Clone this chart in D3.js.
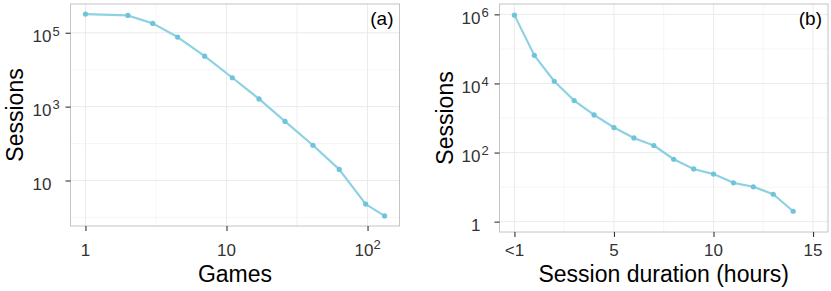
<!DOCTYPE html>
<html>
<head>
<meta charset="utf-8">
<script src="https://cdn.jsdelivr.net/npm/d3@7"></script>
<style>
  body { margin: 0; background: #fff; }
  svg text { font-family: "Liberation Sans", Arial, Helvetica, sans-serif; }
</style>
</head>
<body>
<div id="chart"></div>
<script>
(function () {
  // panel (a): sessions by number of games played
  const gamesPlayed = [1, 2, 3, 4.5, 7, 11, 17, 26, 41, 63, 97, 132];
  const gamesSessions = [320000, 294000, 179000, 76600, 23200, 6050, 1620, 398, 90, 20, 2.3, 1.1];
  const gamesXTicks = [1, 10, 100];
  const gamesXLabels = ["1", "10", "10^2"];
  const gamesYTicks = [10, 1000, 100000];
  const gamesYLabels = ["10", "10^3", "10^5"];

  // panel (b): sessions by session duration
  const durationHours = [0, 1, 2, 3, 4, 5, 6, 7, 8, 9, 10, 11, 12, 13, 14];
  const durationSessions = [950000, 65000, 11600, 3200, 1230, 530, 265, 160, 64, 33.5, 23.8, 13.3, 10.2, 6.2, 2.0];
  const durationXLimits = [0, 15];
  const durationYLimits = [1, 1000000];
  const durationXTicks = [0, 5, 10, 15];
  const durationXLabels = ["<1", "5", "10", "15"];
  const durationYTicks = [1, 100, 10000, 1000000];
  const durationYLabels = ["1", "10^2", "10^4", "10^6"];

  const W = 831, H = 291;
  const lineColor = "#8cd2e2";
  const pointColor = "#6fc3da";

  const svg = d3.select("#chart").append("svg")
    .attr("width", W)
    .attr("height", H);

  // ggplot style 5% expansion
  function expandLog(ext) {
    const a = Math.log10(ext[0]), b = Math.log10(ext[1]);
    const pad = (b - a) * 0.05;
    return [Math.pow(10, a - pad), Math.pow(10, b + pad)];
  }
  function expandLin(ext) {
    const pad = (ext[1] - ext[0]) * 0.05;
    return [ext[0] - pad, ext[1] + pad];
  }

  // log minor breaks halfway between major ticks
  function logMinor(ticks) {
    const out = [];
    for (let i = 0; i < ticks.length - 1; i++) {
      out.push(Math.sqrt(ticks[i] * ticks[i + 1]));
    }
    return out;
  }

  function drawPanel(p) {
    const g = svg.append("g");
    const left = p.box.left, right = p.box.right, top = p.box.top, bottom = p.box.bottom;
    const x = p.x.range([left, right]);
    const y = p.y.range([bottom, top]);

    // minor grid
    g.selectAll(".xminor").data(p.xMinor).join("line")
      .attr("x1", d => x(d)).attr("x2", d => x(d))
      .attr("y1", top).attr("y2", bottom)
      .attr("stroke", "#f4f4f4").attr("stroke-width", 0.8)
    g.selectAll(".yminor").data(p.yMinor).join("line")
      .attr("y1", d => y(d)).attr("y2", d => y(d))
      .attr("x1", left).attr("x2", right)
      .attr("stroke", "#f4f4f4").attr("stroke-width", 0.8)
    // major grid
    g.append("g").selectAll("line").data(p.xTicks).join("line")
      .attr("x1", d => x(d)).attr("x2", d => x(d))
      .attr("y1", top).attr("y2", bottom)
      .attr("stroke", "#ebebeb").attr("stroke-width", 1)
    g.append("g").selectAll("line").data(p.yTicks).join("line")
      .attr("y1", d => y(d)).attr("y2", d => y(d))
      .attr("x1", left).attr("x2", right)
      .attr("stroke", "#ebebeb").attr("stroke-width", 1)

    // frame
    g.append("rect")
      .attr("x", left).attr("y", top)
      .attr("width", right - left).attr("height", bottom - top)
      .attr("fill", "none")
      .attr("stroke", "#c4c4c4")
      .attr("stroke-width", 1)

    // axes (ticks only, labels drawn by hand for superscripts)
    const xAxis = g.append("g")
      .attr("transform", "translate(0," + bottom + ")")
      .call(d3.axisBottom(x).tickValues(p.xTicks).tickSize(5).tickFormat(""))
    const yAxis = g.append("g")
      .attr("transform", "translate(" + left + ",0)")
      .call(d3.axisLeft(y).tickValues(p.yTicks).tickSize(5).tickFormat(""))
    xAxis.select(".domain").remove()
    yAxis.select(".domain").remove()
    g.selectAll(".tick line").attr("stroke", "#333").attr("stroke-width", 1.1)

    // x tick labels, centred as a whole
    p.xTicks.forEach((t, i) => {
      const parts = p.xLabels[i].split("^");
      const txt = g.append("text")
        .attr("x", x(t))
        .attr("y", bottom + p.xLabelOffset)
        .attr("text-anchor", "middle")
        .attr("font-size", 17)
        .attr("fill", "#333")
      txt.append("tspan").text(parts[0]);
      if (parts[1]) {
        txt.append("tspan").attr("dy", -7).attr("font-size", 13).text(parts[1]);
      }
    });

    // y tick labels, base right aligned, exponent sticks out
    p.yTicks.forEach((t, i) => {
      const parts = p.yLabels[i].split("^");
      const bx = left - 19;
      g.append("text")
        .attr("x", bx)
        .attr("y", y(t) + 9.5)
        .attr("text-anchor", "end")
        .attr("font-size", 17)
        .attr("fill", "#333")
        .text(parts[0])
      if (parts[1]) {
        g.append("text")
          .attr("x", bx + 1)
          .attr("y", y(t) + 2.8)
          .attr("font-size", 13)
          .attr("fill", "#333")
          .text(parts[1])
      }
    });

    // line + points
    const data = p.xs.map((d, i) => ({ x: d, y: p.ys[i] }));
    const line = d3.line()
      .x(d => x(d.x))
      .y(d => y(d.y))
    g.append("path")
      .datum(data)
      .attr("d", line)
      .attr("fill", "none")
      .attr("stroke", lineColor)
      .attr("stroke-width", 2.2)
      .attr("stroke-linejoin", "round")
    g.selectAll(".pt").data(data).join("circle")
      .attr("cx", d => x(d.x))
      .attr("cy", d => y(d.y))
      .attr("r", 2.6)
      .attr("fill", pointColor)

    // titles
    g.append("text")
      .attr("x", (left + right) / 2)
      .attr("y", 282)
      .attr("text-anchor", "middle")
      .attr("font-size", 23)
      .attr("fill", "#000")
      .text(p.xTitle)
    g.append("text")
      .attr("transform", "translate(" + p.yTitleX + "," + ((top + bottom) / 2) + ") rotate(-90)")
      .attr("text-anchor", "middle")
      .attr("font-size", 23)
      .attr("fill", "#000")
      .text("Sessions")
    g.append("text")
      .attr("x", right - 6)
      .attr("y", top + 21)
      .attr("text-anchor", "end")
      .attr("font-size", 19)
      .attr("fill", "#000")
      .text(p.tag)
  }

  drawPanel({
    box: { left: 70.5, right: 399.5, top: 4, bottom: 226 },
    x: d3.scaleLog().domain(expandLog(d3.extent(gamesPlayed))),
    y: d3.scaleLog().domain(expandLog(d3.extent(gamesSessions))),
    xs: gamesPlayed, ys: gamesSessions,
    xTicks: gamesXTicks, xLabels: gamesXLabels,
    yTicks: gamesYTicks, yLabels: gamesYLabels,
    xMinor: logMinor(gamesXTicks).concat([Math.sqrt(1000)]),
    yMinor: [1, 100, 10000, 1000000],
    xLabelOffset: 30,
    yTitleX: 23,
    xTitle: "Games",
    tag: "(a)"
  });

  drawPanel({
    box: { left: 499.5, right: 828, top: 4, bottom: 232 },
    x: d3.scaleLinear().domain(expandLin(durationXLimits)),
    y: d3.scaleLog().domain(expandLog(durationYLimits)),
    xs: durationHours, ys: durationSessions,
    xTicks: durationXTicks, xLabels: durationXLabels,
    yTicks: durationYTicks, yLabels: durationYLabels,
    xMinor: [2.5, 7.5, 12.5],
    yMinor: [10, 1000, 100000],
    xLabelOffset: 24,
    yTitleX: 453,
    xTitle: "Session duration (hours)",
    tag: "(b)"
  });
})();
</script>
</body>
</html>
